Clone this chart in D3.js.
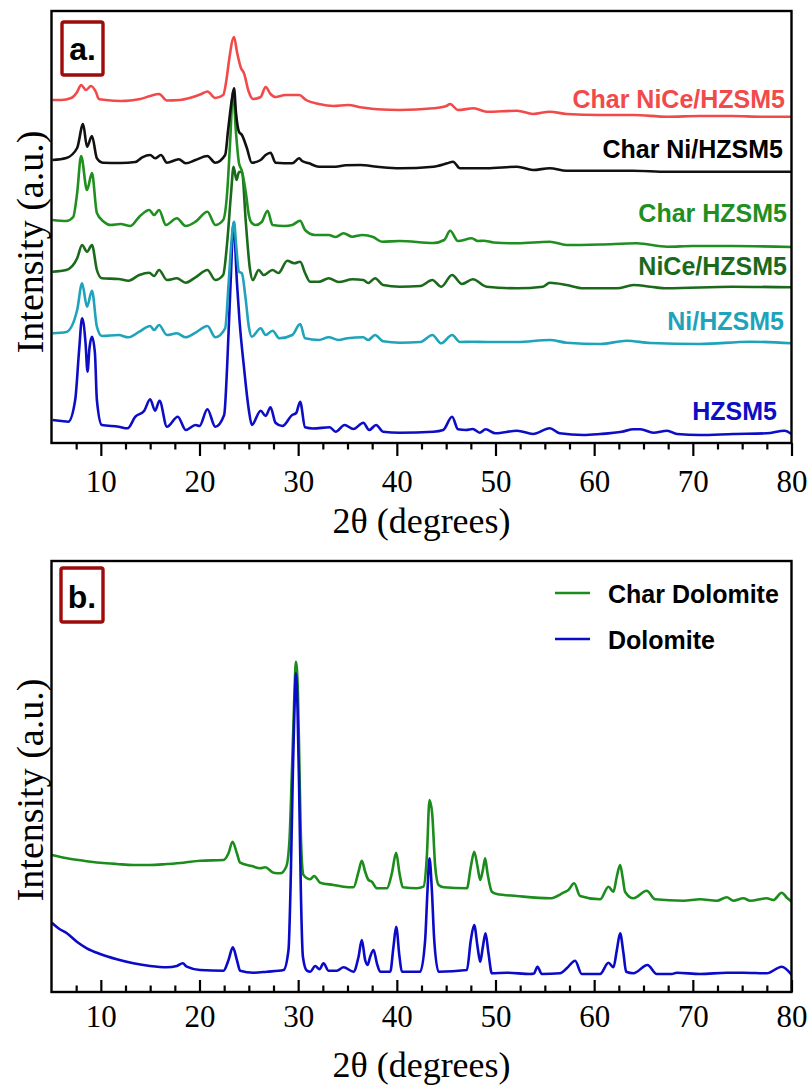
<!DOCTYPE html>
<html>
<head>
<meta charset="utf-8">
<script src="https://cdn.jsdelivr.net/npm/d3@7/dist/d3.min.js"></script>
<style>
  html, body { margin: 0; padding: 0; background: #fff; }
  svg { display: block; }
</style>
</head>
<body>
<script>
// ---------------- DATA (2θ in degrees, intensity in arbitrary units) ----------------
const xTicksMajor = [10, 20, 30, 40, 50, 60, 70, 80];
const xTicksMinor = [7.5, 12.5, 15, 17.5, 22.5, 25, 27.5, 32.5, 35, 37.5, 42.5, 45, 47.5, 52.5, 55, 57.5, 62.5, 65, 67.5, 72.5, 75, 77.5];

const namesA = ["Char NiCe/HZSM5", "Char Ni/HZSM5", "Char HZSM5", "NiCe/HZSM5", "Ni/HZSM5", "HZSM5"];
const namesB = ["Char Dolomite", "Dolomite"];

const charNiCeHZSM5 = [[5.1,343],[6,343],[7,345],[7.6,351],[8.0,358],[8.5,353],[9.0,357],[9.5,351],[9.8,344],[10.5,343],[12,342],[13,342.5],[14,344],[15,347],[15.9,349],[16.7,342.5],[18,343],[19,345],[20.2,349],[20.8,351.5],[21.6,345],[22.4,348],[22.8,368],[23.0,383],[23.5,406],[23.8,391],[24.2,375],[24.5,370],[25.0,351],[25.4,344],[26.2,346],[26.7,356],[27.2,349],[27.7,346],[28.7,348],[30.1,348],[30.8,343],[32.1,339],[33.6,337],[35,338],[36.5,335.5],[38,333.7],[40.3,333],[43.7,334.7],[45.0,337],[45.4,339],[46.2,333],[47.8,334.7],[49.1,331.3],[52.2,332.3],[53.8,329],[55.5,331.3],[57.2,329],[60.6,328],[64,328],[67.4,326.3],[70.7,327],[74,327],[77,326.3],[80,326.3]];

const charNiHZSM5 = [[5.1,283],[6.5,285],[7.6,295],[8.2,319],[8.6,296.3],[9.1,307],[9.6,284.7],[10.2,280.3],[12,280],[13.5,281],[14.2,285.7],[15.0,288],[15.5,284.7],[16.1,288],[16.7,280.3],[17.9,283.7],[18.6,279.7],[19.6,283],[20.8,287],[21.6,280.3],[22.6,288],[22.9,313],[23.3,344.7],[23.5,354.7],[23.7,330],[24.0,311.3],[24.3,308],[24.8,295],[25.3,280.3],[26.2,283],[26.7,288],[27.2,290.3],[27.7,280.3],[29.4,279.7],[30.1,284.7],[30.4,282],[31.1,279.7],[32.1,276.3],[33.8,276.3],[34.8,277.7],[36.3,278],[38,276.3],[40.3,274.7],[43.7,276.3],[45.1,279.7],[45.7,281.3],[46.4,274.7],[49.1,274.7],[52.2,276.3],[53.8,273],[55.5,274.7],[57.2,272.3],[63.9,272.3],[67.4,271.3],[80,271.3]];

const charHZSM5 = [[5.1,223],[6.5,222],[7.2,226],[7.6,250],[8.0,287],[8.6,253],[9.1,270],[9.6,230],[10.3,221.3],[11,218],[12,219],[13,217],[13.9,226.3],[14.9,233],[15.4,228],[15.9,233],[16.6,218],[17.7,224.7],[18.6,217],[19.6,221.3],[20.8,231.3],[21.6,218],[22.4,223],[22.8,250],[23.1,300],[23.4,352],[23.7,310],[24.0,280],[24.3,272],[24.7,250],[25.0,228],[25.3,220],[25.7,218],[26.3,221],[26.9,232.3],[27.4,218],[28.6,217],[29.4,218],[30.2,222.3],[30.7,213],[31.7,208],[33.1,208],[33.8,206],[34.6,209.7],[35.5,206.3],[36.5,208],[37.6,206],[38.5,201.3],[40.3,202],[43.7,200],[44.8,203],[45.4,212.3],[46.2,202],[47.6,204.7],[48.2,202],[48.8,202.3],[49.8,200.5],[52.2,199.7],[55.5,201.3],[57.2,198],[60.6,198.5],[64.3,199.7],[67.4,196.3],[70,197],[74,197],[80,196]];

const niCeHZSM5 = [[5.1,171.3],[6.5,173],[7.6,184.7],[8.1,198],[8.6,191.3],[9.1,198],[9.6,173],[10.1,164.7],[11.8,164],[12.8,162.3],[13.9,168],[14.9,170.3],[15.4,167],[15.9,173],[16.7,163],[17.7,164.7],[18.6,160.3],[19.6,165.7],[20.8,173],[21.6,163],[22.4,168],[22.8,200],[23.2,250],[23.45,276.3],[23.75,263],[24.0,271],[24.3,271.3],[24.7,220],[25.1,175],[25.4,163],[26.0,173],[26.5,168],[27.4,173],[28.0,170],[28.9,182.3],[29.6,179.7],[30.2,181.3],[30.7,170],[31.2,161.3],[32.1,161.3],[33.1,164.7],[34.1,161],[35.5,163.7],[36.6,163],[37.1,160],[37.8,164.7],[38.6,158],[40.3,156.3],[42.4,157],[43.6,163],[44.5,156.3],[45.6,168],[46.6,159],[47.7,163.7],[49.1,156.3],[52.2,154.7],[54.8,156.3],[55.5,160.3],[57.2,158],[58.9,154.7],[62.3,154.7],[64,158],[65.7,156.3],[67.4,154.7],[74,156.3],[80,155.7]];

const niHZSM5 = [[5.1,109.7],[6.5,111],[7.6,133],[8.1,159.7],[8.6,136.3],[9.1,152.3],[9.6,116.3],[10.1,107],[11.8,108],[12.8,105.7],[13.9,111.3],[15.0,117],[15.4,113],[15.9,118],[16.7,108],[17.7,109.7],[18.6,105.7],[19.6,110.3],[20.8,117],[21.6,105.7],[22.6,114.7],[22.95,159.7],[23.25,203],[23.5,221.3],[23.7,199.7],[24.0,171.3],[24.3,169.7],[24.65,146.3],[25.0,116.3],[25.3,106.3],[26.2,114.7],[26.7,108],[27.4,112.3],[28.1,104.7],[29.4,108],[30.2,119],[30.7,104.7],[32.1,103],[33.1,105.7],[34.1,103],[35,104.7],[36.6,105.7],[37.1,103],[37.8,108],[38.6,101.7],[40.3,100.3],[42.4,101],[43.6,108],[44.5,99.7],[45.6,108],[46.4,101],[47.6,101.3],[49.1,101],[52.2,101],[55.5,103],[57.2,100.3],[60.6,99],[63.3,102.3],[65.7,100],[70.7,99],[75.8,101.3],[80,99.7]];

const hZSM5 = [[5.1,23],[6.0,22],[6.7,21.3],[7.4,43],[7.8,93],[8.1,124.7],[8.45,100],[8.65,71.3],[8.85,95],[9.1,106.3],[9.4,90],[9.6,43],[10.1,18],[11.8,16.3],[12.7,14.7],[13.5,26.3],[14.4,32.3],[15.0,43.7],[15.5,32.3],[15.95,42.3],[16.7,16.3],[17.8,26.3],[18.6,13],[19.6,18],[20.0,17],[20.8,33.7],[21.6,16.3],[22.5,28],[22.8,76.3],[23.15,159.7],[23.45,220],[23.8,159.7],[24.05,123],[24.5,76.3],[25.0,33],[25.3,18],[26.2,32.3],[26.7,27],[27.2,35.7],[27.7,20.3],[28.4,17],[29.4,28],[29.8,30],[30.2,41.3],[30.7,15.7],[31.5,14.5],[33.2,15.7],[33.8,11.3],[34.7,18],[35.6,14],[36.6,20.3],[37.2,13],[37.9,18],[38.6,11.3],[40.3,10.3],[43.7,11.3],[44.7,13],[45.6,26.3],[46.2,13.7],[47.0,13],[47.7,14],[48.4,10.3],[49.0,13.7],[50.0,9.7],[52.2,12.3],[53.8,9],[55.5,14.7],[56.5,9.7],[58.9,8],[60.6,9],[62.8,11.3],[64.0,13.7],[64.7,13.7],[66.0,10.3],[67.4,12.3],[68.4,9],[70.7,8],[74.1,9],[77.5,9.7],[79.3,12.3],[80,9]];

const charDolomite = [[5.03,137],[6.56,133.7],[8.24,131.3],[9.93,129.3],[11.62,128],[13.3,127],[14.99,127],[16.69,128],[18.37,129.3],[20.07,131.3],[22.43,132],[22.94,138.7],[23.35,150.3],[23.79,138.7],[24.12,129.3],[25.3,126],[26.15,123.7],[26.66,124.7],[27.5,119.3],[28.18,118.7],[28.79,125.3],[29.12,152],[29.36,218.7],[29.6,292],[29.77,330.3],[29.97,302],[30.14,218.7],[30.31,145.3],[30.54,117],[31.22,112.7],[31.62,116],[32.23,109.3],[33.58,107],[34.6,105.3],[35.61,104.7],[36.12,120.3],[36.45,131.3],[36.79,120.3],[37.13,112],[37.47,110.3],[37.98,103.7],[38.99,103.7],[39.5,118.7],[39.93,139.3],[40.27,118.7],[40.61,104.7],[42.03,103.7],[42.7,105.3],[43.04,135.3],[43.31,192],[43.58,178.7],[43.89,125.3],[44.23,107],[44.73,104.7],[47.1,103.7],[47.5,125.3],[47.84,140.3],[48.18,125.3],[48.45,112],[48.72,122],[48.95,133.7],[49.19,118.7],[49.63,100.3],[50.13,98],[52.15,96],[55.53,93.7],[56.88,99.3],[57.39,102],[57.97,108.7],[58.57,96],[60.6,92.7],[61.45,105.3],[61.95,100.3],[62.29,115.3],[62.63,127],[62.9,113.7],[63.13,100.3],[63.98,93.7],[65.33,101.3],[66.17,92.7],[69.05,91.3],[70.74,92.7],[72.42,91.3],[73.44,94.7],[74.11,91.3],[75.13,93.7],[75.8,91.3],[77.49,93.7],[78.17,92],[79.01,99.3],[79.59,93.7],[80.03,90.3]];

const dolomite = [[5.03,69.3],[5.7,63.7],[6.56,58.7],[7.57,50.3],[8.58,43.7],[9.93,38],[11.62,32.7],[13.3,28.7],[14.99,26],[16.69,24.7],[17.7,26],[18.3,28.7],[18.71,25.3],[20.06,22],[22.43,21.3],[22.94,32],[23.38,44.7],[23.79,32],[24.12,21.3],[25.48,19.3],[26.83,20.3],[28.52,22],[29.02,42],[29.26,118.7],[29.46,218.7],[29.63,285.3],[29.77,318.7],[29.93,285.3],[30.1,202],[30.27,102],[30.48,35.3],[30.88,21.3],[31.22,20.3],[31.73,26],[32.16,22.7],[32.57,28.7],[33.08,21.3],[33.92,21.3],[34.6,24.7],[35.61,20.3],[36.12,35.3],[36.45,52],[36.79,32],[37.03,27],[37.3,35.3],[37.64,42],[37.98,28.7],[38.31,20.3],[39.33,20.3],[39.66,45.3],[39.93,65.3],[40.27,35.3],[40.51,20.3],[42.37,20.3],[42.87,52],[43.11,102],[43.31,133.7],[43.55,102],[43.79,52],[44.23,20.3],[47.1,22],[47.5,52],[47.84,67],[48.18,45.3],[48.45,30.3],[48.72,45.3],[48.99,58.7],[49.29,38.7],[49.63,18.7],[51.15,19.3],[53.52,18],[53.9,18.5],[54.25,25.3],[54.69,18],[56.55,18.7],[57.22,23.7],[58.07,31.3],[58.74,18],[60.6,18],[61.45,29.3],[61.95,24.7],[62.3,42],[62.63,58.7],[62.97,38.7],[63.24,20.3],[63.98,18.7],[65.4,27],[66.34,18],[67.86,18],[68.37,19.3],[70.74,18],[73.44,19.3],[75.13,19.3],[77.49,18.7],[79.01,25.3],[80.03,17]];

// ---------------- LAYOUT ----------------
const W = 812, H = 1088;
const svg = d3.select("body").append("svg").attr("width", W).attr("height", H);

const serif = "'Liberation Serif','Times New Roman',Times,serif";
const sans = "'Liberation Sans',Arial,Helvetica,sans-serif";

const colors = {
  charNiCe: "#f24a4a",
  charNi: "#111111",
  charH: "#1f8f1f",
  niCe: "#1b6a1b",
  ni: "#1fa3bb",
  h: "#0d0dc6",
  charDol: "#1c8c1c",
  dol: "#0a0ac8"
};

const panels = [
  { top: 11, bottom: 443, ymax: 432, tickDir: 1, labelTop: 470, titleBase: 533, yTitleCenter: 242 },
  { top: 561, bottom: 992, ymax: 431, tickDir: -1, labelTop: 1005, titleBase: 1077, yTitleCenter: 790 }
];
const xLeft = 51.5, xRight = 791.5;

function drawPanel(p, series, idx) {
  const g = svg.append("g");
  const x = d3.scaleLinear().domain([5, 80]).range([xLeft, xRight]);
  const y = d3.scaleLinear().domain([0, p.ymax]).range([p.bottom, p.top]);

  const line = d3.line().x(d => x(d[0])).y(d => y(d[1])).curve(d3.curveMonotoneX);

  const clipId = "clip" + idx;
  svg.append("clipPath").attr("id", clipId).append("rect")
    .attr("x", xLeft).attr("y", p.top).attr("width", xRight - xLeft).attr("height", p.bottom - p.top);

  const lines = g.append("g").attr("clip-path", `url(#${clipId})`);
  series.forEach(s => {
    lines.append("path").datum(s.data)
      .attr("fill", "none").attr("stroke", s.color)
      .attr("stroke-width", 2.6).attr("stroke-linejoin", "round")
      .attr("d", line);
  });

  // frame
  g.append("rect").attr("x", xLeft).attr("y", p.top)
    .attr("width", xRight - xLeft).attr("height", p.bottom - p.top)
    .attr("fill", "none").attr("stroke", "#000").attr("stroke-width", 2.4);

  // axes
  const majorLen = p.tickDir > 0 ? 13 : -12;
  const minorLen = p.tickDir > 0 ? 6.5 : -6.5;
  const pad = p.labelTop - p.bottom - Math.max(majorLen, 0);
  const axMajor = d3.axisBottom(x).tickValues(xTicksMajor).tickSize(majorLen).tickPadding(pad).tickFormat(d3.format("d"));
  const axMinor = d3.axisBottom(x).tickValues(xTicksMinor).tickSize(minorLen).tickFormat("");

  const gM = g.append("g").attr("transform", `translate(0,${p.bottom})`).call(axMajor);
  const gm = g.append("g").attr("transform", `translate(0,${p.bottom})`).call(axMinor);
  [gM, gm].forEach(a => {
    a.select(".domain").remove();
    a.selectAll(".tick line").attr("stroke", "#000").attr("stroke-width", 2.2);
  });
  gM.selectAll(".tick text").attr("font-family", serif).attr("font-size", 31).attr("fill", "#000");

  // axis titles
  g.append("text").attr("x", (xLeft + xRight) / 2).attr("y", p.titleBase)
    .attr("text-anchor", "middle").attr("font-family", serif).attr("font-size", 36)
    .text("2θ (degrees)");
  g.append("text")
    .attr("transform", `translate(43,${p.yTitleCenter}) rotate(-90)`)
    .attr("text-anchor", "middle").attr("font-family", serif).attr("font-size", 38)
    .text("Intensity (a.u.)");
  return { g, x, y };
}

// Panel a (draw bottom trace first so upper traces sit on top)
const seriesA = [
  { name: namesA[5], data: hZSM5, color: colors.h },
  { name: namesA[4], data: niHZSM5, color: colors.ni },
  { name: namesA[3], data: niCeHZSM5, color: colors.niCe },
  { name: namesA[2], data: charHZSM5, color: colors.charH },
  { name: namesA[1], data: charNiHZSM5, color: colors.charNi },
  { name: namesA[0], data: charNiCeHZSM5, color: colors.charNiCe }
];
const pa = drawPanel(panels[0], seriesA, 0);

// trace labels in panel a (baseline y, right x)
const labelPos = {
  "Char NiCe/HZSM5": [108, 785],
  "Char Ni/HZSM5": [158, 783],
  "Char HZSM5": [222, 787],
  "NiCe/HZSM5": [275, 787],
  "Ni/HZSM5": [330, 784],
  "HZSM5": [420, 777]
};
seriesA.forEach(s => {
  const [by, rx] = labelPos[s.name];
  pa.g.append("text").attr("x", rx).attr("y", by).attr("text-anchor", "end")
    .attr("font-family", sans).attr("font-weight", "bold").attr("font-size", 25)
    .attr("fill", s.color === colors.charNi ? "#000" : s.color).text(s.name);
});

// Panel b
const seriesB = [
  { name: namesB[0], data: charDolomite, color: colors.charDol },
  { name: namesB[1], data: dolomite, color: colors.dol }
];
const pb = drawPanel(panels[1], seriesB, 1);

// legend b
const legY = [593, 639];
seriesB.forEach((s, i) => {
  pb.g.append("line").attr("x1", 555).attr("x2", 590).attr("y1", legY[i]).attr("y2", legY[i])
    .attr("stroke", s.color).attr("stroke-width", 2.6);
  pb.g.append("text").attr("x", 608).attr("y", legY[i] + 10)
    .attr("font-family", sans).attr("font-weight", "bold").attr("font-size", 25)
    .attr("fill", "#000").text(s.name);
});

// panel tags
function tag(x0, y0, w, h, txt, base) {
  svg.append("rect").attr("x", x0).attr("y", y0).attr("width", w).attr("height", h)
    .attr("rx", 2).attr("fill", "#fff").attr("stroke", "#9e0b0b").attr("stroke-width", 3.4);
  svg.append("text").attr("x", x0 + w / 2).attr("y", base).attr("text-anchor", "middle")
    .attr("font-family", sans).attr("font-weight", "bold").attr("font-size", 32)
    .attr("fill", "#000").text(txt);
}
tag(62, 22, 41, 53, "a.", 60);
tag(61, 568, 42, 54, "b.", 608);
</script>
</body>
</html>
